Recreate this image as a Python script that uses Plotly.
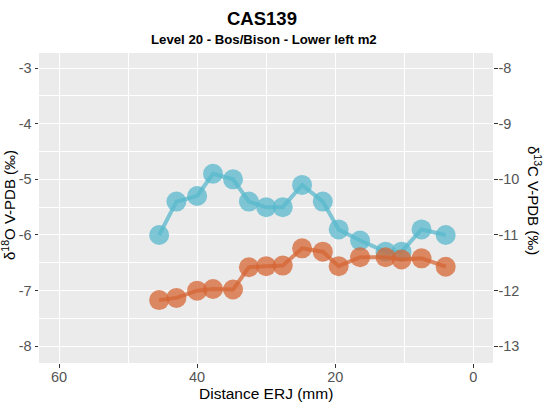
import plotly.graph_objects as go

# Distance from enamel-root junction (mm)
distance = [45.5, 43.0, 40.0, 37.7, 34.8, 32.5, 30.0, 27.6, 24.8, 21.8,
            19.5, 16.4, 12.7, 10.4, 7.5, 4.0]
# Oxygen isotope values (left axis)
d18o = [-6.0, -5.4, -5.3, -4.9, -5.0, -5.4, -5.5, -5.5, -5.1, -5.4,
        -5.9, -6.1, -6.3, -6.3, -5.9, -6.0]
# Carbon isotope values (right axis)
d13c = [-12.17, -12.13, -12.0, -11.97, -11.98, -11.58, -11.56, -11.55, -11.24, -11.3,
        -11.56, -11.4, -11.4, -11.44, -11.42, -11.57]

x_ticks = [60, 40, 20, 0]
y_left_ticks = [-3, -4, -5, -6, -7, -8]
y_right_ticks = [-8, -9, -10, -11, -12, -13]

blue = "rgba(88,184,204,0.75)"
orange = "rgba(214,102,52,0.75)"
tick_font = dict(family="Liberation Sans, Arial", size=14.5, color="#555555")

fig = go.Figure()
fig.add_trace(go.Scatter(
    x=distance, y=d18o, mode="lines+markers", yaxis="y",
    line=dict(color=blue, width=4),
    marker=dict(color=blue, size=20, line=dict(width=0)),
    showlegend=False,
))
fig.add_trace(go.Scatter(
    x=distance, y=d13c, mode="lines+markers", yaxis="y2",
    line=dict(color=orange, width=4),
    marker=dict(color=orange, size=20, line=dict(width=0)),
    showlegend=False,
))

fig.update_layout(
    width=548, height=405,
    margin=dict(l=39, r=55, t=53, b=42),
    paper_bgcolor="white",
    plot_bgcolor="#EBEBEB",
    font=dict(family="Liberation Sans, Arial", color="black"),
    xaxis=dict(
        range=[62.9, -2.85], tickvals=x_ticks, ticktext=[str(v) for v in x_ticks],
        showgrid=True, gridcolor="white", gridwidth=1.1, zeroline=False,
        ticks="outside", ticklen=3.5, tickcolor="#333333", tickwidth=1,
        tickfont=tick_font, showline=False, ticklabelstandoff=-3,
        minor=dict(tickvals=[50, 30, 10], showgrid=True, gridcolor="white", gridwidth=0.5, ticks=""),
    ),
    yaxis=dict(
        range=[-8.30, -2.73], tickvals=y_left_ticks, ticktext=[str(v) for v in y_left_ticks],
        showgrid=True, gridcolor="white", gridwidth=1.1, zeroline=False,
        ticks="outside", ticklen=3.5, tickcolor="#333333", tickwidth=1,
        tickfont=tick_font,
        minor=dict(tickvals=[-3.5, -4.5, -5.5, -6.5, -7.5], showgrid=True,
                   gridcolor="white", gridwidth=0.5, ticks=""),
    ),
    yaxis2=dict(
        overlaying="y", side="right",
        range=[-13.30, -7.73], tickvals=y_right_ticks, ticktext=[str(v) for v in y_right_ticks],
        showgrid=False, zeroline=False,
        ticks="outside", ticklen=3.5, tickcolor="#333333", tickwidth=1,
        tickfont=tick_font, ticklabelstandoff=-2,
    ),
)


def py(pixel_y):
    """Convert a pixel row of the page to paper coordinates."""
    return 1 + (53 - pixel_y) / 310


def px(pixel_x):
    """Convert a pixel column of the page to paper coordinates."""
    return (pixel_x - 39) / 454


texts = [
    ("<b>CAS139</b>", 262, 18, 18.5, 0),
    ("<b>Level 20 - Bos/Bison - Lower left m2</b>", 264, 40, 13.2, 0),
    ("Distance ERJ (mm)", 266, 393, 15.5, 0),
    ("δ<sup>18</sup>O V-PDB (‰)", 9, 205, 15, -90),
    ("δ<sup>13</sup>C V-PDB (‰)", 534, 200, 15, 90),
]
for text, x, y, size, angle in texts:
    fig.add_annotation(
        text=text, xref="paper", yref="paper", x=px(x), y=py(y),
        xanchor="center", yanchor="middle", textangle=angle, showarrow=False,
        font=dict(family="Liberation Sans, Arial", size=size, color="black"),
    )

fig.write_html("out.html")
